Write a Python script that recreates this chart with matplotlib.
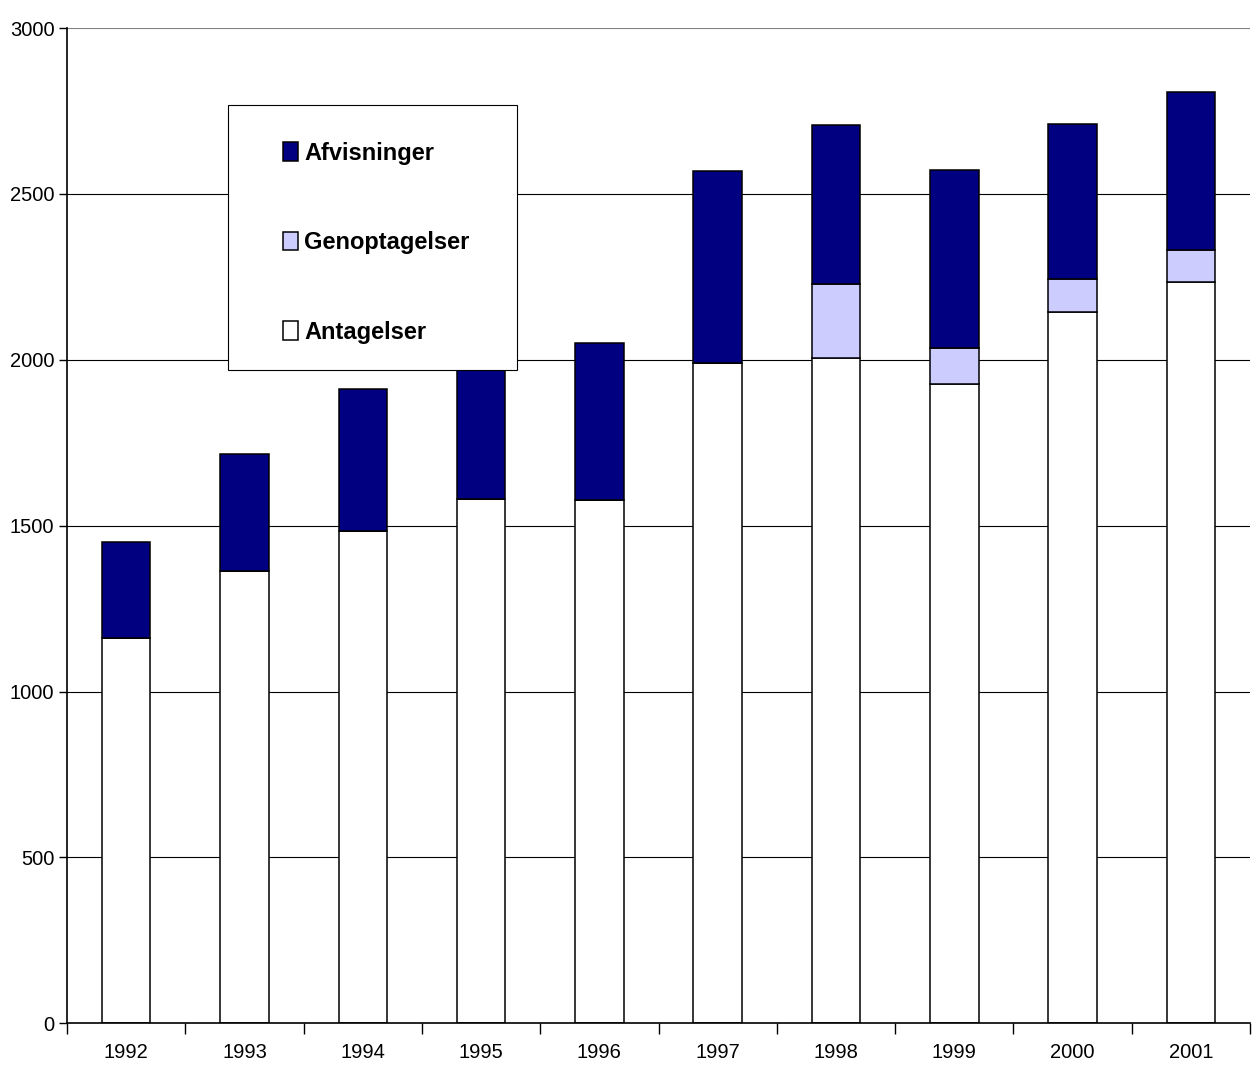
import matplotlib.pyplot as plt
import matplotlib.patches as mpatches
import numpy as np

plt.rcParams['font.family'] = ['Liberation Sans', 'DejaVu Sans']

# data
years = ['1992', '1993', '1994', '1995', '1996', '1997', '1998', '1999', '2000', '2001']
antagelser = [1161, 1363, 1483, 1580, 1577, 1990, 2004, 1926, 2145, 2236]
genoptagelser = [0, 0, 0, 0, 0, 0, 223, 111, 100, 96]
afvisninger = [289, 352, 428, 420, 473, 579, 482, 536, 467, 476]
yticks = [0, 500, 1000, 1500, 2000, 2500, 3000]

c_afv = '#000080'
c_gen = '#CCCCFF'
c_ant = '#FFFFFF'

fig = plt.figure(figsize=(12.52, 10.67), dpi=100)
ax = fig.add_axes([0.0535, 0.041, 0.945, 0.9327])

x = np.arange(len(years))
ant = np.array(antagelser)
gen = np.array(genoptagelser)
afv = np.array(afvisninger)
w = 0.41

# gridlines (black), top one grey
for t in yticks[1:-1]:
    ax.axhline(t, color='black', linewidth=0.8, zorder=1)
ax.axhline(yticks[-1], color='#808080', linewidth=1.5, zorder=1)

ax.bar(x, ant, width=w, color=c_ant, edgecolor='black', linewidth=1.1, zorder=2, label='Antagelser')
ax.bar(x, gen, width=w, bottom=ant, color=c_gen, edgecolor='black', linewidth=1.1, zorder=2, label='Genoptagelser')
ax.bar(x, afv, width=w, bottom=ant + gen, color=c_afv, edgecolor='black', linewidth=1.1, zorder=2, label='Afvisninger')

ax.set_xlim(-0.5, len(years) - 0.5)
ax.set_ylim(0, 3000)

ax.set_yticks(yticks)
ax.set_yticklabels([str(t) for t in yticks], fontsize=14.5)
ax.tick_params(axis='y', length=6, width=1, pad=3)

# ticks between categories, labels centred on bars
ax.set_xticks(np.arange(-0.5, len(years), 1.0))
ax.set_xticklabels([])
ax.set_xticks(x, minor=True)
ax.set_xticklabels(years, minor=True, fontsize=14.5)
ax.tick_params(axis='x', which='major', length=8, width=1)
ax.tick_params(axis='x', which='minor', length=0, pad=14)

for s in ['top', 'right']:
    ax.spines[s].set_visible(False)
ax.spines['left'].set_linewidth(1.2)
ax.spines['bottom'].set_linewidth(1.2)

# legend box
box = mpatches.Rectangle((0.136, 0.656), 0.244, 0.2666, transform=ax.transAxes,
                         facecolor='white', edgecolor='black', linewidth=0.8, zorder=4)
ax.add_patch(box)

handles, labels = ax.get_legend_handles_labels()
leg = ax.legend(handles[::-1], labels[::-1], loc='upper left', bbox_to_anchor=(0.1826, 0.886),
                frameon=False, borderpad=0, borderaxespad=0,
                prop={'weight': 'bold', 'size': 17},
                handlelength=0.65, handleheight=0.85, handletextpad=0.25, labelspacing=2.82)
leg.set_zorder(5)

fig.savefig('out.png', dpi=100)
